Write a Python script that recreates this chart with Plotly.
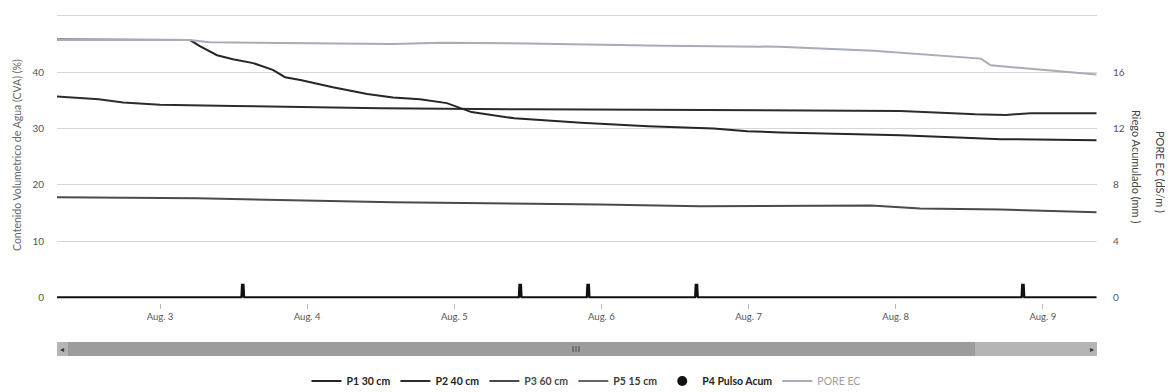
import plotly.graph_objects as go
import pandas as pd

# ---------------- data ----------------
p1_times = ["2019-08-02 07:00", "2019-08-02 18:00", "2019-08-03 04:54", "2019-08-03 06:30",
            "2019-08-03 09:18", "2019-08-03 11:54", "2019-08-03 15:12", "2019-08-03 18:24",
            "2019-08-03 20:24", "2019-08-03 22:54", "2019-08-04 04:12", "2019-08-04 09:48",
            "2019-08-04 14:00", "2019-08-04 18:24", "2019-08-04 22:48", "2019-08-05 02:48",
            "2019-08-05 09:48", "2019-08-05 20:42", "2019-08-06 07:36", "2019-08-06 18:18",
            "2019-08-06 23:48", "2019-08-07 05:12", "2019-08-07 15:00", "2019-08-08 00:48",
            "2019-08-08 12:12", "2019-08-08 17:06", "2019-08-09 08:45"]
p1_vals = [45.8, 45.7, 45.7, 44.6, 43.0, 42.3, 41.6, 40.4, 39.1, 38.6, 37.3, 36.1,
           35.5, 35.2, 34.5, 32.9, 31.8, 31.0, 30.4, 30.0, 29.5, 29.3, 29.0, 28.8,
           28.3, 28.1, 27.9]

p2_times = ["2019-08-02 07:00", "2019-08-02 14:00", "2019-08-02 18:00", "2019-08-03 00:00",
            "2019-08-03 12:00", "2019-08-04 00:00", "2019-08-04 12:00", "2019-08-05 12:00",
            "2019-08-06 12:00", "2019-08-07 05:00", "2019-08-08 00:48", "2019-08-08 13:00",
            "2019-08-08 18:00", "2019-08-08 22:00", "2019-08-09 08:45"]
p2_vals = [35.7, 35.2, 34.6, 34.2, 34.0, 33.8, 33.6, 33.4, 33.3, 33.2, 33.1, 32.5,
           32.4, 32.7, 32.7]

p3_times = ["2019-08-02 07:00", "2019-08-03 06:00", "2019-08-04 14:00", "2019-08-05 10:00",
            "2019-08-05 23:48", "2019-08-06 16:00", "2019-08-07 05:00", "2019-08-07 20:00",
            "2019-08-08 04:00", "2019-08-08 17:00", "2019-08-09 08:45"]
p3_vals = [17.8, 17.6, 16.9, 16.7, 16.5, 16.2, 16.3, 16.3, 15.8, 15.6, 15.1]

pore_times = ["2019-08-02 07:00", "2019-08-03 04:54", "2019-08-03 08:00", "2019-08-04 00:00",
              "2019-08-04 14:00", "2019-08-04 22:00", "2019-08-05 12:00", "2019-08-06 10:00",
              "2019-08-07 05:00", "2019-08-07 20:24", "2019-08-08 04:36", "2019-08-08 10:36",
              "2019-08-08 13:54", "2019-08-08 15:30", "2019-08-08 23:42", "2019-08-09 08:45"]
pore_vals = [18.28, 18.28, 18.12, 18.08, 18.0, 18.08, 18.04, 17.88, 17.8, 17.52, 17.28,
             17.08, 16.96, 16.48, 16.16, 15.84]

pulse_times = ["2019-08-03 13:30", "2019-08-05 10:45", "2019-08-05 21:50",
               "2019-08-06 15:30", "2019-08-08 20:45"]
pulse_vals = [0.9, 0.9, 0.9, 0.9, 0.9]
series_start = "2019-08-02 07:00"
series_end = "2019-08-09 08:45"

x_ticks = ["2019-08-03", "2019-08-04", "2019-08-05", "2019-08-06", "2019-08-07",
           "2019-08-08", "2019-08-09"]
x_ticktext = ["Aug. 3", "Aug. 4", "Aug. 5", "Aug. 6", "Aug. 7", "Aug. 8", "Aug. 9"]
y_ticks = [0, 10, 20, 30, 40, 50]
y_ticktext = ["0", "10", "20", "30", "40", ""]
y2_ticks = [0, 4, 8, 12, 16]

# build pulse step series from the pulse list
half = pd.Timedelta(minutes=14)
px_, py_ = [pd.Timestamp(series_start)], [0]
for t, v in zip(pulse_times, pulse_vals):
    t = pd.Timestamp(t)
    px_ += [t - half, t - half * 0.6, t + half * 0.6, t + half]
    py_ += [0, v, v, 0]
px_.append(pd.Timestamp(series_end))
py_.append(0)

FONT = "Lato"
fig = go.Figure()

fig.add_trace(go.Scatter(x=pore_times, y=pore_vals, yaxis="y2", mode="lines",
                         line=dict(color="#a9abb8", width=2), legendrank=6,
                         name='<span style="color:#a0a0a0">PORE EC</span>'))
fig.add_trace(go.Scatter(x=p3_times, y=p3_vals, mode="lines",
                         line=dict(color="#4a4a4a", width=2), legendrank=3,
                         name='<b><span style="color:#4a4a4a">P3 60 cm</span></b>'))
fig.add_trace(go.Scatter(x=p2_times, y=p2_vals, mode="lines",
                         line=dict(color="#2c2c2c", width=2), legendrank=2,
                         name="<b>P2 40 cm</b>"))
fig.add_trace(go.Scatter(x=p1_times, y=p1_vals, mode="lines",
                         line=dict(color="#262626", width=2), legendrank=1,
                         name="<b>P1 30 cm</b>"))
fig.add_trace(go.Scatter(x=[None], y=[None], mode="lines",
                         line=dict(color="#666666", width=2), legendrank=4,
                         name='<b><span style="color:#3a3a3a">P5 15 cm</span></b>'))
fig.add_trace(go.Scatter(x=px_, y=py_, yaxis="y2", mode="lines",
                         line=dict(color="#111111", width=2), fill="tozeroy",
                         fillcolor="#111111", showlegend=False, name="P4 Pulso Acum"))
fig.add_trace(go.Scatter(x=[None], y=[None], mode="markers", legendrank=5,
                         marker=dict(color="#111111", size=10),
                         name="<b>P4 Pulso Acum</b>"))

# page body adds an 8px margin; compensate
OFF = 8
W, H = 1173 - OFF, 392 - OFF
L, T = 57 - OFF, 13 - OFF
R = W - (1097 - OFF)
B = H - (303 - OFF)
pw, ph = W - L - R, H - T - B

def pxx(x):
    return (x - OFF - L) / pw

def pxy(y):
    return (H - B - (y - OFF)) / ph

shapes = [
    dict(type="rect", xref="paper", yref="paper", x0=pxx(57), x1=pxx(1097),
         y0=pxy(356), y1=pxy(342), fillcolor="#b4b4b4", line=dict(width=0), layer="below"),
    dict(type="rect", xref="paper", yref="paper", x0=pxx(68), x1=pxx(975),
         y0=pxy(356), y1=pxy(342), fillcolor="#9c9c9c", line=dict(width=0), layer="below"),
]
for gx in (573, 576, 579):
    shapes.append(dict(type="line", xref="paper", yref="paper", x0=pxx(gx), x1=pxx(gx),
                       y0=pxy(352), y1=pxy(346), line=dict(color="#444", width=1)))

ann_common = dict(xref="paper", yref="paper", showarrow=False,
                  xanchor="center", yanchor="middle")
annotations = [
    dict(text="Contenido Volumetrico de Agua (CVA) (%)", x=pxx(17), y=pxy(155),
         textangle=-90, font=dict(family=FONT, size=10.5, color="#666"), **ann_common),
    dict(text="Riego Acumulado (mm )", x=pxx(1137), y=pxy(166), textangle=90,
         font=dict(family=FONT, size=11, color="#444"), **ann_common),
    dict(text="PORE EC (dS/m )", x=pxx(1161), y=pxy(172), textangle=90,
         font=dict(family=FONT, size=11, color="#444"), **ann_common),
    dict(text="◂", x=pxx(62), y=pxy(349), font=dict(family=FONT, size=8, color="#333"),
         **ann_common),
    dict(text="▸", x=pxx(1092), y=pxy(349), font=dict(family=FONT, size=8, color="#333"),
         **ann_common),
]

fig.update_layout(
    width=W, height=H,
    margin=dict(l=L, r=R, t=T, b=B, autoexpand=False),
    paper_bgcolor="white", plot_bgcolor="white",
    font=dict(family=FONT, size=9, color="#555"),
    xaxis=dict(type="date", range=["2019-08-02 07:12", "2019-08-09 08:50"],
               tickvals=x_ticks, ticktext=x_ticktext, showgrid=False, automargin=False,
               ticks="outside", ticklen=5, tickcolor="#bbb", zeroline=False,
               showline=False, tickfont=dict(size=9.5, color="#555")),
    yaxis=dict(range=[-1, 50.5], tickvals=y_ticks, ticktext=y_ticktext, automargin=False,
               showgrid=True, gridcolor="#d6d6d6", gridwidth=1, zeroline=False,
               ticks="outside", ticklen=10, tickcolor="rgba(0,0,0,0)",
               tickfont=dict(size=10, color="#555")),
    yaxis2=dict(range=[-0.4, 20.2], tickvals=y2_ticks, overlaying="y", side="right",
                showgrid=False, zeroline=False, ticks="outside", ticklen=13, automargin=False,
                tickcolor="rgba(0,0,0,0)", tickfont=dict(size=10, color="#555")),
    legend=dict(orientation="h", x=pxx(586), xanchor="center", y=pxy(381),
                yanchor="middle", itemwidth=30, font=dict(family=FONT, size=10.5, color="#222"),
                bgcolor="rgba(0,0,0,0)", traceorder="normal"),
    shapes=shapes, annotations=annotations, showlegend=True,
)

fig.write_html("out.html")
